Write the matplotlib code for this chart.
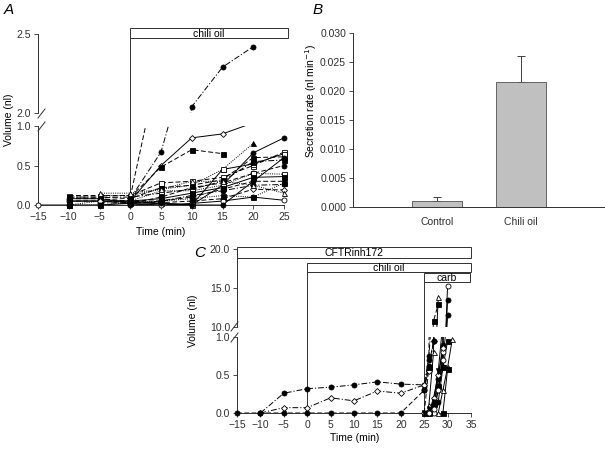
import numpy as np
import matplotlib
matplotlib.use("Agg")
import matplotlib.pyplot as plt
from matplotlib.patches import Rectangle
from matplotlib.transforms import blended_transform_factory

plt.rcParams["font.family"] = ["Liberation Sans", "DejaVu Sans"]
plt.rcParams["font.size"] = 7.5

nan = np.nan
INK = "#303030"

# ---- panel A: volume vs time, chili oil from t = 0 ----
a_times = [-15, -10, -5, 0, 5, 10, 15, 20, 25]
a_vals = [
    [nan, nan, nan, 0.08, 0.67, 2.04, 2.29, 2.42, nan],
    [nan, nan, nan, 0.05, 0.50, 0.85, 0.90, 1.04, nan],
    [nan, nan, nan, 0.10, 0.48, 0.70, 0.65, nan, nan],
    [nan, nan, 0.12, 0.12, 0.20, 0.25, 0.45, 0.78, nan],
    [nan, nan, nan, 0.10, 1.90, nan, nan, nan, nan],
    [nan, 0.08, 0.08, 0.03, 0.02, 0.00, 0.25, 0.66, 0.85],
    [nan, 0.12, 0.12, 0.12, 0.28, 0.30, 0.35, 0.50, 0.67],
    [nan, 0.10, 0.10, 0.08, 0.22, 0.25, 0.32, 0.60, 0.61],
    [nan, 0.05, 0.05, 0.05, 0.02, 0.00, 0.45, 0.52, 0.65],
    [nan, 0.10, 0.10, 0.10, 0.15, 0.20, 0.30, 0.55, 0.57],
    [nan, 0.05, 0.05, 0.02, 0.10, 0.22, 0.28, 0.40, 0.50],
    [nan, 0.00, 0.05, 0.05, 0.18, 0.18, 0.25, 0.40, 0.39],
    [nan, 0.05, 0.05, 0.05, 0.08, 0.15, 0.22, 0.35, 0.36],
    [nan, 0.08, 0.08, 0.05, 0.05, 0.10, 0.20, 0.30, 0.30],
    [nan, nan, 0.03, 0.02, 0.05, 0.12, 0.18, 0.25, 0.26],
    [nan, nan, 0.05, 0.03, 0.03, 0.05, 0.08, 0.20, 0.19],
    [nan, nan, 0.15, 0.15, 0.20, 0.30, 0.30, 0.25, 0.15],
    [0.00, 0.00, 0.00, 0.02, 0.00, 0.02, 0.05, 0.10, 0.06],
    [nan, nan, nan, 0.00, 0.02, 0.00, 0.00, 0.30, 0.60],
    [nan, 0.00, 0.00, 0.03, 0.05, 0.08, 0.12, 0.10, 0.28],
]
a_marker = ["o", "D", "s", "^", "None", "o", "s", "s", "s", "s",
            "o", "s", "s", "v", "o", "D", "^", "o", "o", "s"]
a_filled = [1, 0, 1, 1, 1, 1, 0, 1, 0, 1, 1, 0, 1, 1, 1, 0, 0, 0, 1, 1]
a_ls = ["-.", "-", "--", ":", "--", "-", "--", "--", "-", "-.",
        "--", ":", "-", "--", "-.", "--", ":", "-", "-", ":"]

# ---- panel B: secretion rate ----
b_groups = ["Control", "Chili oil"]
b_means = [0.0011, 0.0215]
b_sem = [0.0007, 0.0045]

# ---- panel C: CFTRinh172, then chili oil, then carb ----
c_times = [
    [-10, -5, 0, 5, 10, 15, 20, 25, 26, 27],
    [-10, -5, 0, 5, 10, 15, 20, 25, 26, 27],
    [-15, -10, -5, 0, 5, 10, 15, 20, 25, 26],
    [25, 26, 27, 28],
    [26, 27, 28],
    [27, 28, 29, 30],
    [27, 28, 29, 30],
    [28, 29, 30],
    [26, 27, 28, 29, 30],
    [25, 26, 27, 28, 29],
    [25, 26, 27, 28, 29],
    [28, 29, 30, 31],
    [29, 30],
    [26, 27, 28, 29, 30],
    [25, 26, 27, 28],
]
c_vals = [
    [0.00, 0.26, 0.32, 0.34, 0.37, 0.41, 0.38, 0.37, 0.75, 1.6],
    [0.00, 0.07, 0.07, 0.20, 0.16, 0.29, 0.26, 0.37, 0.55, 0.95],
    [0.00, 0.00, 0.00, 0.00, 0.00, 0.00, 0.00, 0.00, 0.30, 0.70],
    [0.00, 0.60, 10.8, 12.9],
    [0.10, 0.80, 13.8],
    [0.00, 0.30, 0.80, 15.3],
    [0.10, 0.45, 0.90, 13.5],
    [0.15, 0.60, 11.5],
    [0.00, 0.12, 0.35, 0.60, 0.95],
    [0.00, 0.00, 0.20, 0.50, 0.85],
    [0.00, 0.05, 0.15, 0.55, 1.20],
    [0.00, 0.30, 0.60, 0.97],
    [0.00, 0.58],
    [0.00, 0.05, 0.30, 0.70, 1.30],
    [0.30, 0.62, 0.95, 1.40],
]
c_marker = ["o", "D", "o", "s", "^", "o", "o", "o", "s", "D", "v", "^", "s", "o", "o"]
c_filled = [1, 0, 1, 1, 0, 0, 1, 1, 1, 0, 1, 0, 1, 0, 1]
c_ls = ["-.", "-.", "--", "--", "-", "-", "-", "-", "-", "-", "-", "-", "-", "-", "--"]

DASH = {"-": "-", "--": (0, (5, 2.5)), "-.": (0, (6, 2, 1.2, 2)), ":": (0, (1, 1.3))}


def fy(px):
    return 1 - px / 450.0


def fx(px):
    return px / 605.0


fig = plt.figure(figsize=(6.05, 4.5), dpi=100)


def style(ax, bottom=True):
    for s in ("top", "right"):
        ax.spines[s].set_visible(False)
    ax.spines["left"].set_color(INK)
    ax.spines["bottom"].set_color(INK)
    ax.spines["left"].set_linewidth(0.7)
    ax.spines["bottom"].set_linewidth(0.7)
    ax.tick_params(direction="out", length=3, width=0.6, colors=INK,
                   labelsize=7.5, pad=2)
    ax.patch.set_alpha(0)
    if not bottom:
        ax.spines["bottom"].set_visible(False)
        ax.tick_params(axis="x", bottom=False, labelbottom=False)


def draw_series(axes, x, y, marker, filled, ls):
    x = np.asarray(x, float)
    y = np.asarray(y, float)
    ms = 3.0 if marker == "D" else 3.6
    for ax in axes:
        ax.plot(x, y, ls=DASH[ls], color="k", lw=0.7, zorder=2)
        lo, hi = ax.get_ylim()
        m = (y >= lo - 1e-9) & (y <= hi + 1e-9)
        if marker != "None":
            ax.plot(x[m], y[m], ls="none", marker=marker, ms=ms,
                    mfc="k" if filled else "white", mec="k", mew=0.6,
                    clip_on=False, zorder=3)


def box(ax, x0, x1, ytop_px, ybot_px, label):
    tr = blended_transform_factory(ax.transData, fig.transFigure)
    r = Rectangle((x0, fy(ybot_px)), x1 - x0, fy(ytop_px) - fy(ybot_px),
                  transform=tr, facecolor="white", edgecolor=INK, lw=0.7,
                  clip_on=False, zorder=5)
    ax.add_patch(r)
    ax.text((x0 + x1) / 2, (fy(ytop_px) + fy(ybot_px)) / 2 - 0.002, label,
            transform=tr, ha="center", va="center", fontsize=7.5, zorder=6)


def vline(ax, x, ytop_px, ybot_px):
    tr = blended_transform_factory(ax.transData, fig.transFigure)
    ax.plot([x, x], [fy(ytop_px), fy(ybot_px)], color=INK, lw=0.7,
            transform=tr, clip_on=False, zorder=1)


def slash(xpx, ypx, dx=7, dy=9):
    fig.add_artist(plt.Line2D([fx(xpx), fx(xpx + dx)],
                              [fy(ypx), fy(ypx - dy)], color=INK, lw=0.7))


# ---------------- panel A ----------------
L, R = 38, 284
axA = fig.add_axes([fx(L), fy(205), fx(R) - fx(L), fy(126) - fy(205)])
axA2 = fig.add_axes([fx(L), fy(113), fx(R) - fx(L), fy(34) - fy(113)])
for ax in (axA, axA2):
    ax.set_xlim(-15, 25)
axA.set_ylim(0, 1.0)
axA2.set_ylim(2.0, 2.5)
style(axA)
style(axA2, bottom=False)
axA.set_xticks(a_times)
axA.set_yticks([0, 0.5, 1.0])
axA.set_yticklabels(["0.0", "0.5", "1.0"])
axA2.set_yticks([2.0, 2.5])
axA2.set_yticklabels(["2.0", "2.5"])
for v, m, f, ls in zip(a_vals, a_marker, a_filled, a_ls):
    draw_series((axA, axA2), a_times, v, m, f, ls)
vline(axA, 0, 38, 205)
box(axA, 0, 25.6, 28, 38, "chili oil")
slash(38, 131)
slash(38, 118)
fig.text(fx(9), fy(120), "Volume (nl)", rotation=90, ha="center", va="center")
fig.text(fx(161), fy(232), "Time (min)", ha="center", va="center")
fig.text(fx(9), fy(10), "A", fontsize=11, style="italic", ha="center", va="center")

# ---------------- panel B ----------------
axB = fig.add_axes([fx(353), fy(207), 1 - fx(353), fy(33) - fy(207)])
style(axB)
pos = np.arange(1, len(b_groups) + 1)
axB.bar(pos, b_means, width=0.6, color="#c0c0c0", edgecolor="#505050",
        lw=0.6, zorder=2)
axB.errorbar(pos, b_means, yerr=[np.zeros(len(b_sem)), b_sem], fmt="none",
             ecolor="#404040", elinewidth=0.7, capsize=3, capthick=0.7, zorder=1)
axB.set_xlim(0, 3)
axB.set_ylim(0, 0.030)
axB.set_xticks(pos)
axB.set_xticklabels(b_groups)
axB.tick_params(axis="x", length=0, pad=7)
axB.set_yticks(np.arange(0, 0.0301, 0.005))
axB.set_yticklabels([f"{t:.3f}" for t in np.arange(0, 0.0301, 0.005)])
fig.text(fx(311), fy(101), "Secretion rate (nl min$^{-1}$)", rotation=90,
         ha="center", va="center")
fig.text(fx(318), fy(10), "B", fontsize=11, style="italic", ha="center", va="center")

# ---------------- panel C ----------------
L, R = 237, 471
axC = fig.add_axes([fx(L), fy(413), fx(R) - fx(L), fy(337) - fy(413)])
axC2 = fig.add_axes([fx(L), fy(327), fx(R) - fx(L), fy(249) - fy(327)])
for ax in (axC, axC2):
    ax.set_xlim(-15, 35)
axC.set_ylim(0, 1.0)
axC2.set_ylim(10, 20)
style(axC)
style(axC2, bottom=False)
axC.set_xticks(np.arange(-15, 36, 5))
axC.set_yticks([0, 0.5, 1.0])
axC.set_yticklabels(["0.0", "0.5", "1.0"])
axC2.set_yticks([10, 15, 20])
axC2.set_yticklabels(["10.0", "15.0", "20.0"])
for t, v, m, f, ls in zip(c_times, c_vals, c_marker, c_filled, c_ls):
    draw_series((axC, axC2), t, v, m, f, ls)
vline(axC, 0, 272, 413)
vline(axC, 25, 282, 413)
box(axC, -15, 35, 247, 258, "CFTRinh172")
box(axC, 0, 35, 263, 272, "chili oil")
box(axC, 25, 34.7, 273, 282, "carb")
slash(231, 342)
slash(231, 331)
fig.text(fx(193), fy(321), "Volume (nl)", rotation=90, ha="center", va="center")
fig.text(fx(355), fy(438), "Time (min)", ha="center", va="center")
fig.text(fx(200), fy(253), "C", fontsize=11, style="italic", ha="center", va="center")

fig.savefig("out.png", dpi=100)
